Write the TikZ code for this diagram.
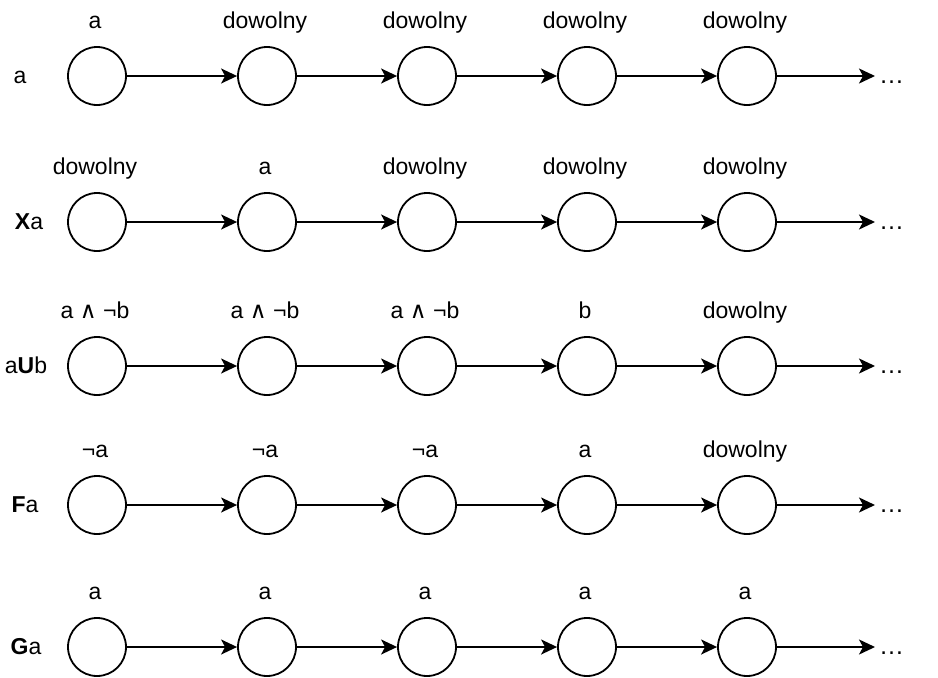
\documentclass[tikz,border=0pt]{standalone}
\usepackage{fontspec}
\setmainfont{Liberation Sans}
\newfontfamily\djv{DejaVu Sans}
\usetikzlibrary{arrows.meta}
\newcommand{\lwedge}{{\djv ∧}}
\begin{document}
\begin{tikzpicture}[x=1pt,y=-1pt,
  st/.style={circle,draw,line width=1.8pt,minimum size=58pt,inner sep=0pt},
  lbl/.style={font=\fontsize{23}{27}\selectfont,inner sep=0pt,anchor=base},
  dots/.style={font=\fontsize{25}{29}\selectfont,inner sep=0pt,outer xsep=4pt,anchor=base west},
  arr/.style={line width=1.8pt,-{Stealth[length=16pt,width=15pt,inset=4pt]}}]
\useasboundingbox (0,0) rectangle (938,678);
\foreach \r/\y in {1/76,2/222,3/366,4/505,5/647} {
  \foreach \c/\x in {1/97,2/267,3/427,4/587,5/747}
    \node[st] (s\r\c) at (\x,\y) {};
  \foreach \a/\b in {1/2,2/3,3/4,4/5}
    \draw[arr] (s\r\a) -- (s\r\b);
  \node[dots] (e\r) at (875,\y+7) {…};
  \draw[arr] (s\r5) -- (e\r.west |- s\r5);
}
% row labels
\node[lbl] (l1) at (20,83) {a};
\node[lbl] (l2) at (29,229) {\textbf{X}a};
\node[lbl] (l3) at (26,373) {a\textbf{U}b};
\node[lbl] (l4) at (25,512) {\textbf{F}a};
\node[lbl] (l5) at (26,654) {\textbf{G}a};
% state labels
\foreach \r/\y/\ta/\tb/\tc/\td/\te in {
  1/76/a/dowolny/dowolny/dowolny/dowolny,
  2/222/dowolny/a/dowolny/dowolny/dowolny,
  3/366/{a \lwedge\ ¬b}/{a \lwedge\ ¬b}/{a \lwedge\ ¬b}/b/dowolny,
  4/505/¬a/¬a/¬a/a/dowolny,
  5/647/a/a/a/a/a} {
  \node[lbl] (t\r1) at ([xshift=-2pt,yshift=48pt]s\r1.center) {\ta};
  \node[lbl] (t\r2) at ([xshift=-2pt,yshift=48pt]s\r2.center) {\tb};
  \node[lbl] (t\r3) at ([xshift=-2pt,yshift=48pt]s\r3.center) {\tc};
  \node[lbl] (t\r4) at ([xshift=-2pt,yshift=48pt]s\r4.center) {\td};
  \node[lbl] (t\r5) at ([xshift=-2pt,yshift=48pt]s\r5.center) {\te};
}
\end{tikzpicture}
\end{document}
